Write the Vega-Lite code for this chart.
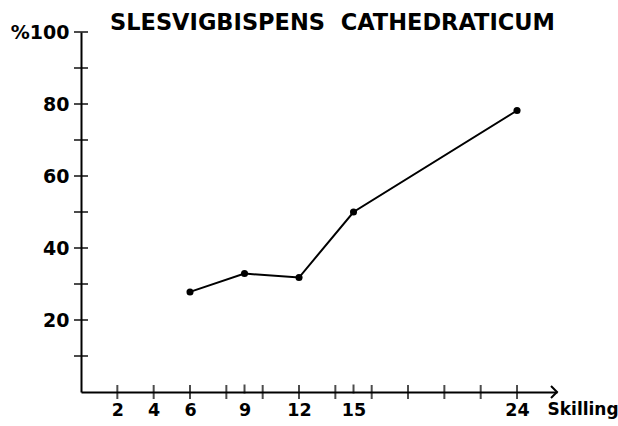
{
  "$schema": "https://vega.github.io/schema/vega-lite/v6.json",
  "width": 476,
  "height": 360,
  "autosize": {"type": "none"},
  "padding": {"left": 81, "top": 32, "right": 61, "bottom": 34},
  "background": "white",
  "config": {
    "view": {"stroke": null},
    "font": "DejaVu Sans",
    "axis": {
      "domainColor": "black",
      "domainWidth": 2,
      "grid": false,
      "ticks": false,
      "labelColor": "black",
      "labelFont": "DejaVu Sans",
      "labelFontWeight": "bold",
      "labelFontSize": 19
    }
  },
  "title": {
    "text": "SLESVIGBISPENS\u00a0 CATHEDRATICUM",
    "anchor": "start",
    "frame": "group",
    "dx": 29,
    "dy": 31,
    "fontSize": 22.5,
    "fontWeight": "bold",
    "font": "DejaVu Sans",
    "color": "black",
    "baseline": "alphabetic",
    "offset": 2
  },
  "datasets": {
    "pts": [
      {"x": 6, "y": 27.8},
      {"x": 9, "y": 32.9},
      {"x": 12, "y": 31.8},
      {"x": 15, "y": 50.0},
      {"x": 24, "y": 78.2}
    ],
    "xticks": [
      {"x": 2}, {"x": 4}, {"x": 6}, {"x": 8}, {"x": 10}, {"x": 12}, {"x": 14},
      {"x": 16}, {"x": 18}, {"x": 20}, {"x": 22}, {"x": 24}
    ],
    "xshort": [{"x": 9}, {"x": 15}],
    "yticks": [
      {"y": 10}, {"y": 20}, {"y": 30}, {"y": 40}, {"y": 50},
      {"y": 60}, {"y": 70}, {"y": 80}, {"y": 90}, {"y": 100}
    ],
    "arrow": [{"x": 26.2, "y": 0}]
  },
  "layer": [
    {
      "data": {"name": "pts"},
      "mark": {"type": "line", "color": "black", "strokeWidth": 2},
      "encoding": {
        "x": {
          "field": "x", "type": "quantitative",
          "scale": {"domain": [0, 26.2], "nice": false, "zero": true},
          "axis": {
            "values": [2, 4, 6, 9, 12, 15, 24],
            "labelPadding": 9,
            "labelFontSize": 17.5,
            "title": "Skilling",
            "titleX": 466,
            "titleY": 17,
            "titleAlign": "left",
            "titleBaseline": "middle",
            "titleFont": "DejaVu Sans",
            "titleFontSize": 17,
            "titleFontWeight": "bold",
            "titleColor": "black",
            "labelFlush": false,
            "labelOverlap": false
          }
        },
        "y": {
          "field": "y", "type": "quantitative",
          "scale": {"domain": [0, 100], "nice": false},
          "axis": {
            "values": [20, 40, 60, 80, 100],
            "labelExpr": "datum.value == 100 ? '%100' : datum.label",
            "labelPadding": 12,
            "title": null,
            "labelFlush": false,
            "labelOverlap": false
          }
        }
      }
    },
    {
      "data": {"name": "pts"},
      "mark": {"type": "point", "filled": true, "color": "black", "size": 50, "opacity": 1},
      "encoding": {
        "x": {"field": "x", "type": "quantitative"},
        "y": {"field": "y", "type": "quantitative"}
      }
    },
    {
      "data": {"name": "xticks"},
      "mark": {"type": "tick", "orient": "vertical", "size": 14, "thickness": 2, "color": "black"},
      "encoding": {
        "x": {"field": "x", "type": "quantitative"},
        "y": {"datum": 0, "type": "quantitative"}
      }
    },
    {
      "data": {"name": "xshort"},
      "mark": {"type": "tick", "orient": "vertical", "size": 9, "thickness": 2, "color": "black", "yOffset": -3},
      "encoding": {
        "x": {"field": "x", "type": "quantitative"},
        "y": {"datum": 0, "type": "quantitative"}
      }
    },
    {
      "data": {"name": "yticks"},
      "mark": {"type": "tick", "orient": "horizontal", "size": 14, "thickness": 2, "color": "black"},
      "encoding": {
        "x": {"datum": 0, "type": "quantitative"},
        "y": {"field": "y", "type": "quantitative"}
      }
    },
    {
      "data": {"name": "arrow"},
      "mark": {"type": "point", "shape": "M-1,-1L0,0L-1,1", "filled": false, "color": "black", "strokeWidth": 2, "size": 144, "opacity": 1},
      "encoding": {
        "x": {"field": "x", "type": "quantitative"},
        "y": {"field": "y", "type": "quantitative"}
      }
    }
  ]
}
